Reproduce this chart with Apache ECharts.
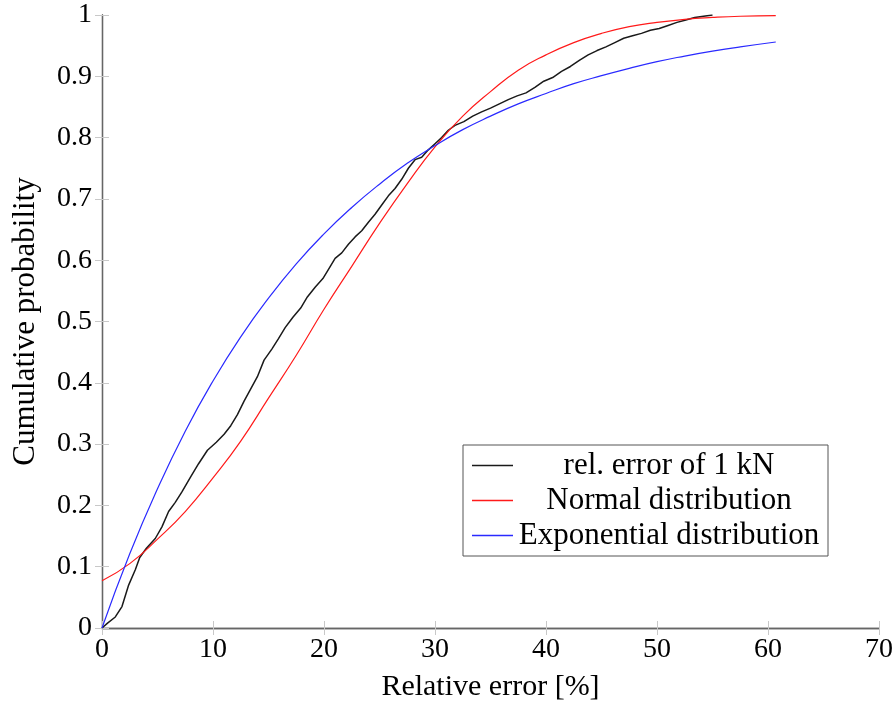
<!DOCTYPE html>
<html>
<head>
<meta charset="utf-8">
<script src="https://cdn.jsdelivr.net/npm/echarts@6/dist/echarts.min.js"></script>
<style>
  html, body { margin: 0; padding: 0; background: #fff; }
  #chart { width: 896px; height: 709px; }
</style>
</head>
<body>
<div id="chart"></div>
<script>
const errX = [0, 0.5, 1.2, 1.8, 2.4, 3.0, 3.4, 4.0, 4.8, 5.4, 6.0, 6.6, 7.2, 8.0, 8.7, 9.5,
  10.3, 11.0, 11.6, 12.2, 12.8, 13.4, 14.0, 14.6, 15.3, 15.9, 16.5, 17.2, 17.9, 18.5, 19.2, 19.9,
  20.5, 21.0, 21.6, 22.2, 22.8, 23.4, 24.0, 24.6, 25.2, 25.8, 26.4, 27.0, 27.6, 28.2, 28.8, 29.4,
  30.0, 30.6, 31.2, 31.8, 32.6, 33.4, 34.2, 35.0, 35.8, 36.6, 37.4, 38.2, 39.0, 39.8,
  40.6, 41.4, 42.2, 43.0, 43.8, 44.6, 45.4, 46.2, 47.0, 47.8, 48.6, 49.4, 50.2, 51.0, 51.8,
  52.6, 53.4, 54.2, 55.0];
const errY = [0, 0.008, 0.018, 0.035, 0.07, 0.095, 0.115, 0.13, 0.146, 0.165, 0.19, 0.205, 0.222, 0.247, 0.268, 0.29,
  0.303, 0.316, 0.33, 0.348, 0.37, 0.39, 0.41, 0.437, 0.455, 0.472, 0.49, 0.507, 0.522, 0.54, 0.556, 0.57,
  0.588, 0.603, 0.612, 0.626, 0.638, 0.648, 0.662, 0.675, 0.69, 0.705, 0.717, 0.732, 0.75, 0.764, 0.768, 0.78,
  0.79, 0.8, 0.812, 0.82, 0.826, 0.835, 0.842, 0.848, 0.855, 0.862, 0.868, 0.873, 0.882, 0.892,
  0.898, 0.908, 0.916, 0.926, 0.935, 0.942, 0.948, 0.955, 0.962, 0.966, 0.97, 0.975, 0.978, 0.983, 0.988,
  0.992, 0.996, 0.998, 1.0];

// fitted curves, sampled every 2.5 %
const fitX = [0, 2.5, 5, 7.5, 10, 12.5, 15, 17.5, 20, 22.5, 25, 27.5, 30, 32.5, 35, 37.5,
  40, 42.5, 45, 47.5, 50, 52.5, 55, 57.5, 60.7];
const normalY = [0.077, 0.105, 0.145, 0.19, 0.245, 0.305, 0.375, 0.445, 0.52, 0.59, 0.66, 0.725,
  0.785, 0.835, 0.875, 0.91, 0.935, 0.955, 0.97, 0.981, 0.988, 0.993, 0.996, 0.998, 0.999];
const expY = [0, 0.121, 0.227, 0.321, 0.403, 0.475, 0.538, 0.594, 0.643, 0.686, 0.724, 0.758,
  0.787, 0.813, 0.835, 0.855, 0.872, 0.888, 0.901, 0.913, 0.924, 0.933, 0.941, 0.948, 0.956];

const names = ["rel. error of 1 kN", "Normal distribution", "Exponential distribution"];

const pairs = (xs, ys) => xs.map((x, i) => [x, ys[i]]);

const font = "'Liberation Serif', 'DejaVu Serif', serif";
const frame = { show: true, lineStyle: { color: "#666", width: 1.3 } };
const ticks = { show: true, inside: true, length: 7, lineStyle: { color: "#c8c8c8", width: 1 } };

const myChart = echarts.init(document.getElementById("chart"));

myChart.setOption({
  animation: false,
  backgroundColor: "#fff",
  textStyle: { fontFamily: font },
  grid: { left: 102, right: 16, top: 15, bottom: 81 },
  legend: {
    orient: "vertical",
    left: 463,
    top: 445,
    data: names,
    icon: "rect",
    itemWidth: 41,
    itemHeight: 1.5,
    itemGap: 4,
    padding: [5, 8, 5, 9],
    backgroundColor: "#fff",
    borderColor: "#555",
    borderWidth: 1,
    borderRadius: 0,
    formatter: (name) => "{c|" + name + "}",
    textStyle: {
      fontFamily: font,
      fontSize: 31,
      color: "#000",
      rich: {
        c: { width: 302, align: "center", fontFamily: font, fontSize: 31, lineHeight: 31, color: "#000" },
      },
    },
  },
  xAxis: [
    {
      type: "value",
      min: 0,
      max: 70,
      interval: 10,
      name: "Relative error [%]",
      nameLocation: "middle",
      nameGap: 44,
      nameTextStyle: { fontFamily: font, fontSize: 30, color: "#000" },
      axisLine: frame,
      axisTick: ticks,
      axisLabel: { fontFamily: font, fontSize: 28, color: "#000", margin: 8 },
      splitLine: { show: false },
    },
    {
      type: "value",
      position: "top",
      min: 0,
      max: 70,
      interval: 10,
      axisLine: frame,
      axisTick: ticks,
      axisLabel: { show: false },
      splitLine: { show: false },
    },
  ],
  yAxis: [
    {
      type: "value",
      min: 0,
      max: 1,
      interval: 0.1,
      name: "Cumulative probability",
      nameLocation: "middle",
      nameGap: 61,
      nameTextStyle: { fontFamily: font, fontSize: 31, color: "#000" },
      axisLine: frame,
      axisTick: ticks,
      axisLabel: { fontFamily: font, fontSize: 28, color: "#000", margin: 10 },
      splitLine: { show: false },
    },
    {
      type: "value",
      position: "right",
      min: 0,
      max: 1,
      interval: 0.1,
      axisLine: frame,
      axisTick: ticks,
      axisLabel: { show: false },
      splitLine: { show: false },
    },
  ],
  series: [
    {
      name: names[0],
      type: "line",
      showSymbol: false,
      color: "#1a1a1a",
      lineStyle: { color: "#1a1a1a", width: 1.5 },
      data: pairs(errX, errY),
    },
    {
      name: names[1],
      type: "line",
      showSymbol: false,
      smooth: true,
      color: "#ff1a1a",
      lineStyle: { color: "#ff1a1a", width: 1.2 },
      data: pairs(fitX, normalY),
    },
    {
      name: names[2],
      type: "line",
      showSymbol: false,
      smooth: true,
      color: "#2a2aff",
      lineStyle: { color: "#2a2aff", width: 1.2 },
      data: pairs(fitX, expY),
    },
  ],
});
</script>
</body>
</html>
